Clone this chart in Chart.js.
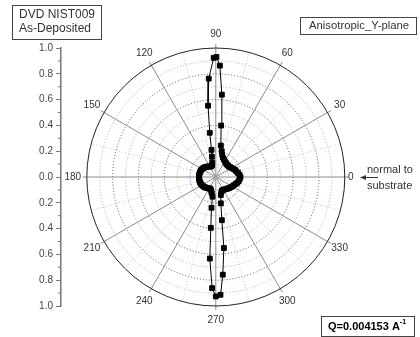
<!DOCTYPE html>
<html>
<head>
<meta charset="utf-8">
<script src="https://cdn.jsdelivr.net/npm/chart.js@4.4.0/dist/chart.umd.min.js"></script>
<style>
    html, body { margin: 0; padding: 0; background: #fff; }
    #wrap { width: 420px; height: 337px; position: relative; }
</style>
</head>
<body>
<div id="wrap"><canvas id="polar-chart" width="420" height="337"></canvas></div>
<script>
// Scan angle (deg) and normalised intensity
const angles = [
    0, 5, 10, 15, 20, 25, 30, 35, 40, 45, 50, 55, 60, 65, 70, 74, 77,
    80.9, 84.1, 85.8, 87.9, 89.7, 91.0, 94.1, 96.2, 97.8, 99.0,
    101, 104, 108, 113, 118, 123, 128, 133, 138, 143, 148, 153, 158, 163, 168, 173, 178,
    183, 188, 193, 198, 203, 208, 213, 218, 223, 228, 233, 238, 243, 248, 252, 256,
    260.5, 262, 264.4, 265.8, 268.1, 270, 272.3, 274.1, 276.5, 278, 280.8, 285.5,
    290, 295, 300, 305, 310, 315, 320, 325, 330, 335, 340, 345, 350, 355
];
const intensity = [
    0.19, 0.185, 0.175, 0.165, 0.16, 0.15, 0.14, 0.135, 0.13, 0.13, 0.13, 0.135, 0.14, 0.15, 0.16, 0.18, 0.205,
    0.247, 0.401, 0.64, 0.864, 0.93, 0.924, 0.765, 0.556, 0.346, 0.213,
    0.16, 0.115, 0.095, 0.09, 0.092, 0.097, 0.103, 0.108, 0.113, 0.118, 0.122, 0.125, 0.127, 0.128, 0.129, 0.13, 0.13,
    0.13, 0.13, 0.13, 0.129, 0.128, 0.126, 0.123, 0.12, 0.116, 0.112, 0.108, 0.104, 0.1, 0.105, 0.115, 0.13,
    0.155, 0.241, 0.396, 0.634, 0.862, 0.926, 0.914, 0.759, 0.554, 0.338, 0.208, 0.145,
    0.125, 0.115, 0.115, 0.118, 0.122, 0.128, 0.134, 0.14, 0.147, 0.153, 0.162, 0.172, 0.18, 0.186
];
const angleTicks = [0, 30, 60, 90, 120, 150, 180, 210, 240, 270, 300, 330];
const rings = [0.1, 0.2, 0.3, 0.4, 0.5, 0.6, 0.7, 0.8, 0.9];

const FONT = '"Liberation Sans", Arial, sans-serif';

// polar -> cartesian, closing the loop back to the first point
const points = angles.map(function(a, i) {
    const t = a * Math.PI / 180;
    return { x: intensity[i] * Math.cos(t), y: intensity[i] * Math.sin(t) };
});
points.push(points[0]);

const polarGrid = {
    id: 'polarGrid',
    beforeDatasetsDraw(chart) {
        const ctx = chart.ctx;
        const xs = chart.scales.x, ys = chart.scales.y;
        const cx = xs.getPixelForValue(0), cy = ys.getPixelForValue(0);
        const unit = cy - ys.getPixelForValue(1);
        ctx.save();
        ctx.lineWidth = 1;

        // dotted rings: green on odd tenths, blue on even tenths
        rings.forEach(function(r, i) {
            ctx.beginPath();
            ctx.setLineDash([1, 2]);
            ctx.strokeStyle = (i % 2 === 1) ? '#4a4aa6' : '#80c880';
            ctx.arc(cx, cy, r * unit, 0, Math.PI * 2);
            ctx.stroke();
        });

        // spokes every 15 degrees, solid on the labelled ones
        for (let a = 0; a < 360; a += 15) {
            const t = a * Math.PI / 180;
            const major = a % 30 === 0;
            const len = major ? unit + 4 : unit;
            ctx.beginPath();
            ctx.setLineDash(major ? [] : [1, 2]);
            ctx.strokeStyle = major ? '#8c8c8c' : '#c4c4c4';
            ctx.moveTo(cx, cy);
            ctx.lineTo(cx + len * Math.cos(t), cy - len * Math.sin(t));
            ctx.stroke();
        }

        // outer circle
        ctx.setLineDash([]);
        ctx.strokeStyle = '#222';
        ctx.beginPath();
        ctx.arc(cx, cy, unit, 0, Math.PI * 2);
        ctx.stroke();

        // angle labels
        ctx.fillStyle = '#333';
        ctx.font = '10px ' + FONT;
        ctx.textAlign = 'center';
        ctx.textBaseline = 'middle';
        angleTicks.forEach(function(a) {
            const t = a * Math.PI / 180;
            const d = a === 0 ? unit + 6 : unit + 14;
            ctx.fillText(String(a), cx + d * Math.cos(t), cy - d * Math.sin(t));
        });

        // short minor ticks on the left axis
        const ax = ys.left + ys.width;
        ctx.strokeStyle = '#777';
        ys.ticks.forEach(function(tk) {
            if (Math.round(Math.abs(tk.value) * 10) % 2 === 1) {
                const py = ys.getPixelForValue(tk.value);
                ctx.beginPath();
                ctx.moveTo(ax - 3, py);
                ctx.lineTo(ax, py);
                ctx.stroke();
            }
        });
        ctx.restore();
    },
    afterDraw(chart) {
        const ctx = chart.ctx;
        ctx.save();
        ctx.strokeStyle = '#444';
        ctx.lineWidth = 1;
        ctx.fillStyle = '#333';
        ctx.textBaseline = 'middle';
        ctx.textAlign = 'left';

        // sample box
        ctx.strokeRect(12.5, 5.5, 89, 34);
        ctx.font = '12px ' + FONT;
        ctx.fillText('DVD NIST009', 19, 15);
        ctx.fillText('As-Deposited', 19, 29);

        // plane box
        ctx.strokeRect(300.5, 17.5, 116, 17);
        ctx.font = '11.3px ' + FONT;
        ctx.fillText('Anisotropic_Y-plane', 309, 26);

        // Q box
        ctx.strokeRect(321.5, 316.5, 93, 20);
        ctx.fillStyle = '#000';
        ctx.font = 'bold 11px ' + FONT;
        ctx.fillText('Q=0.004153 A', 328, 327);
        const w = ctx.measureText('Q=0.004153 A').width;
        ctx.font = 'bold 7px ' + FONT;
        ctx.fillText('-1', 328 + w, 322);

        // normal to substrate
        ctx.fillStyle = '#333';
        ctx.font = '11px ' + FONT;
        ctx.fillText('normal to', 367, 170);
        ctx.fillText('substrate', 367, 186);
        ctx.strokeStyle = '#333';
        ctx.beginPath();
        ctx.moveTo(378, 177.5);
        ctx.lineTo(361, 177.5);
        ctx.stroke();
        ctx.beginPath();
        ctx.moveTo(360, 177.5);
        ctx.lineTo(366, 175);
        ctx.lineTo(366, 180);
        ctx.closePath();
        ctx.fill();
        ctx.restore();
    }
};

new Chart(document.getElementById('polar-chart'), {
    type: 'scatter',
    data: {
        datasets: [{
            data: points,
            showLine: true,
            borderColor: '#000',
            borderWidth: 1,
            backgroundColor: '#000',
            pointStyle: 'rect',
            pointRadius: 3.4,
            pointBorderWidth: 1,
            pointBorderColor: '#000',
            clip: false
        }]
    },
    options: {
        responsive: false,
        animation: false,
        layout: { padding: { left: 36, right: 10, top: 48, bottom: 31 } },
        plugins: { legend: { display: false }, tooltip: { enabled: false } },
        scales: {
            x: { type: 'linear', display: false, min: -1.2, max: 1.5054 },
            y: {
                type: 'linear',
                position: 'left',
                min: -1,
                max: 1,
                afterFit: function(scale) { scale.width = 25; },
                ticks: {
                    stepSize: 0.1,
                    autoSkip: false,
                    padding: 3,
                    color: '#444',
                    font: { family: FONT, size: 10 },
                    callback: function(v) {
                        const k = Math.round(Math.abs(v) * 10);
                        return k % 2 === 0 ? (k / 10).toFixed(1) : '';
                    }
                },
                grid: {
                    drawOnChartArea: false,
                    drawTicks: true,
                    tickLength: 5,
                    tickColor: function(c) {
                        const k = Math.round(Math.abs(c.tick.value) * 10);
                        return k % 2 === 0 ? '#777' : 'rgba(0,0,0,0)';
                    }
                },
                border: { color: '#777', width: 1.5 }
            }
        }
    },
    plugins: [polarGrid]
});
</script>
</body>
</html>
